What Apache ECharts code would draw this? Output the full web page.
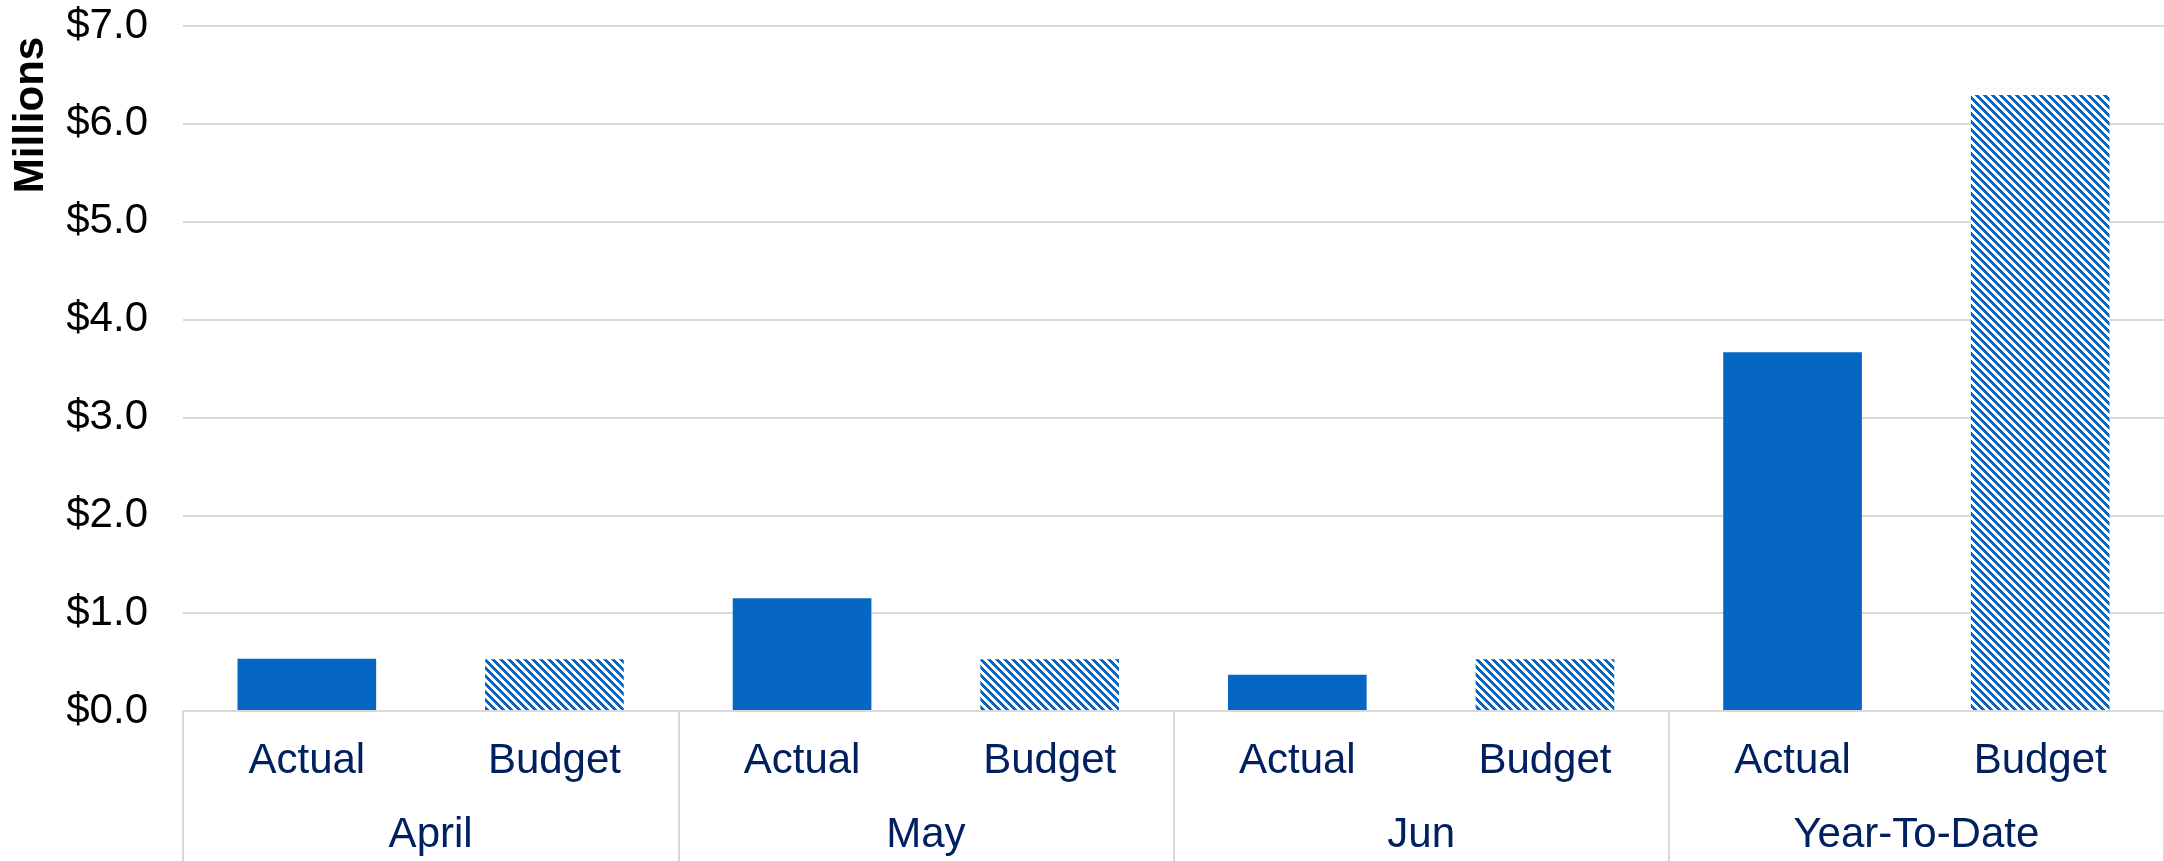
<!DOCTYPE html>
<html>
<head>
<meta charset="utf-8">
<script src="https://cdn.jsdelivr.net/npm/echarts@6/dist/echarts.min.js"></script>
<style>
html,body{margin:0;padding:0;background:#fff;}
#chart{width:2164px;height:861px;}
</style>
</head>
<body>
<div id="chart"></div>
<script>
// ---- data ----
const subCategories = ['Actual', 'Budget', 'Actual', 'Budget', 'Actual', 'Budget', 'Actual', 'Budget'];
const groups = ['April', 'May', 'Jun', 'Year-To-Date'];
const values = [0.535, 0.53, 1.152, 0.53, 0.37, 0.53, 3.665, 6.295];
const yTicks = [0, 1, 2, 3, 4, 5, 6, 7];

const BLUE = '#0566C3';
const FONT = '"Liberation Sans", Arial, sans-serif';

function makePattern() {
  const c = document.createElement('canvas');
  c.width = 8; c.height = 8;
  const ctx = c.getContext('2d');
  ctx.fillStyle = '#ffffff';
  ctx.fillRect(0, 0, 8, 8);
  ctx.fillStyle = BLUE;
  for (let y = 0; y < 8; y++) {
    for (let x = 0; x < 8; x++) {
      if (((x - y) % 8 + 8) % 8 < 4) ctx.fillRect(x, y, 1, 1);
    }
  }
  return c;
}
const pattern = { image: makePattern(), repeat: 'repeat' };

const seriesData = values.map((v, i) => ({
  value: v,
  itemStyle: { color: subCategories[i] === 'Budget' ? pattern : BLUE }
}));

const chart = echarts.init(document.getElementById('chart'), null, { renderer: 'canvas' });
chart.setOption({
  animation: false,
  grid: { left: 183, right: 0, top: 26, bottom: 150, containLabel: false },
  xAxis: [
    {
      type: 'category',
      data: subCategories,
      position: 'bottom',
      axisLine: { show: true, lineStyle: { color: '#d9d9d9', width: 2 } },
      axisTick: { show: false },
      axisLabel: { color: '#002060', fontSize: 42, fontFamily: FONT, margin: 29, lineHeight: 42, interval: 0 },
      z: 5
    },
    {
      type: 'category',
      data: groups,
      position: 'bottom',
      axisLine: { show: false },
      axisTick: { show: true, length: 160, lineStyle: { color: '#d9d9d9', width: 2 } },
      axisLabel: { color: '#002060', fontSize: 42, fontFamily: FONT, margin: 103.5, lineHeight: 42, interval: 0 },
      splitLine: { show: false }
    }
  ],
  yAxis: {
    type: 'value',
    min: yTicks[0],
    max: yTicks[yTicks.length - 1],
    interval: 1,
    axisLine: { show: false },
    axisTick: { show: false },
    splitLine: { lineStyle: { color: '#d9d9d9', width: 2 } },
    axisLabel: {
      color: '#000000', fontSize: 42, fontFamily: FONT, margin: 35,
      formatter: v => '$' + v.toFixed(1)
    }
  },
  graphic: [{
    type: 'text',
    x: 31, y: 115,
    rotation: Math.PI / 2,
    style: {
      text: 'Millions',
      fontSize: 42, fontWeight: 'bold', fontFamily: FONT,
      fill: '#000000', align: 'center', verticalAlign: 'middle'
    }
  }],
  series: [{
    type: 'bar',
    xAxisIndex: 0,
    data: seriesData,
    barWidth: '56%'
  }]
});
</script>
</body>
</html>
